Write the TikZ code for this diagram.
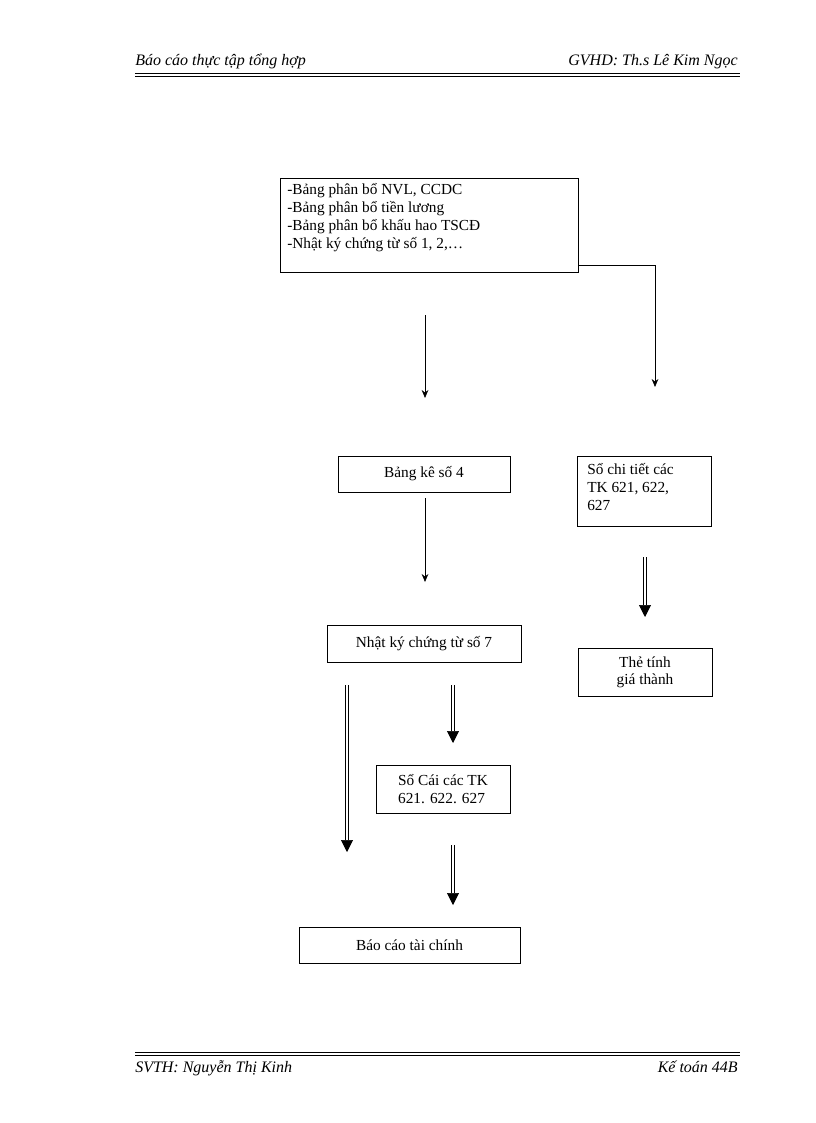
\documentclass[tikz,border=0pt]{standalone}
\usepackage{fontspec}
\setmainfont{Liberation Serif}
\usetikzlibrary{arrows.meta}
\begin{document}
\begin{tikzpicture}[x=0.75pt,y=-0.75pt,
  box/.style={draw,line width=0.6pt,inner sep=0pt,font=\fontsize{11.5}{13}\selectfont},
  arr/.style={-{Stealth[length=6pt,width=5pt]},line width=0.5pt},
  darr/.style={line width=0.5pt,double,double distance=2pt,-{Triangle[length=9pt,width=9pt]}},
  hdr/.style={font=\itshape\fontsize{12}{14}\selectfont,inner sep=0pt}]
\useasboundingbox (0,0) rectangle (816,1123);
% header/footer
\node[hdr,anchor=base west] (h1) at (135,66) {Báo cáo thực tập tổng hợp};
\node[hdr,anchor=base east] (h2) at (738,66) {GVHD: Th.s Lê Kim Ngọc};
\draw[line width=1.2pt] (135,73.5) -- (740,73.5);
\draw[line width=0.5pt] (135,76.5) -- (740,76.5);
\draw[line width=1.2pt] (135,1052.5) -- (740,1052.5);
\draw[line width=0.5pt] (135,1055.5) -- (740,1055.5);
\node[hdr,anchor=base west] (f1) at (135,1072) {SVTH: Nguyễn Thị Kinh};
\node[hdr,anchor=base east] (f2) at (738,1072) {Kế toán 44B};
% boxes
\node[box,minimum width=223.5pt,minimum height=70.5pt] (b1) at (429,225) {};
\node[anchor=north west,inner sep=0pt,align=left,font=\fontsize{11.5}{13.5}\selectfont] (b1t) at (287,183)
 {-Bảng phân bổ NVL, CCDC\\-Bảng phân bổ tiền lương\\-Bảng phân bổ khấu hao TSCĐ\\-Nhật ký chứng từ số 1, 2,…};
\node[box,minimum width=129pt,minimum height=27pt] (b2) at (424,474) {Bảng kê số 4};
\node[box,minimum width=101pt,minimum height=53pt] (b3) at (644.5,491.5) {};
\node[anchor=north west,inner sep=0pt,align=left,font=\fontsize{11.5}{13.5}\selectfont] (b3t) at (587,463)
 {Sổ chi tiết các\\TK 621, 622,\\627};
\node[box,minimum width=145.5pt,minimum height=27.75pt] (b4) at (424,643.5) {Nhật ký chứng từ số 7};
\node[box,minimum width=100.5pt,minimum height=36pt,align=center] (b5) at (645,672) {Thẻ tính\\giá thành};
\node[box,minimum width=100.5pt,minimum height=36pt,align=left] (b6) at (443,789) {Sổ Cái các TK\\621. 622. 627};
\node[box,minimum width=165.75pt,minimum height=27pt] (b7) at (409.5,945) {Báo cáo tài chính};
% connectors
\coordinate (a1s) at (425,315); \coordinate (a1e) at (425,398);
\draw[arr] (a1s) -- (a1e);
\coordinate (c1) at (655,265); \coordinate (c2) at (655,387);
\draw[arr] (b1.east|-c1) -- (c1) -- (c2);
\coordinate (a2s) at (425,498); \coordinate (a2e) at (425,582);
\draw[arr] (a2s) -- (a2e);
\coordinate (d1s) at (645,557); \coordinate (d1e) at (645,617);
\draw[darr] (d1s) -- (d1e);
\coordinate (d2s) at (347,685); \coordinate (d2e) at (347,852);
\draw[darr] (d2s) -- (d2e);
\coordinate (d3s) at (453,685); \coordinate (d3e) at (453,743);
\draw[darr] (d3s) -- (d3e);
\coordinate (d4s) at (453,845); \coordinate (d4e) at (453,905);
\draw[darr] (d4s) -- (d4e);
\end{tikzpicture}
\end{document}
